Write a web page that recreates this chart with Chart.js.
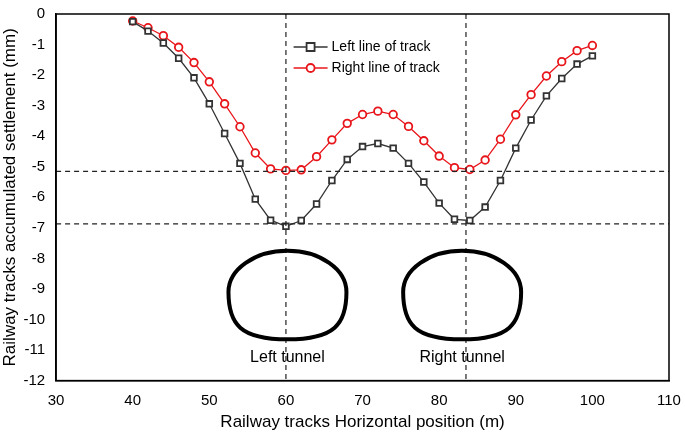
<!DOCTYPE html>
<html><head><meta charset="utf-8">
<script src="https://cdn.jsdelivr.net/npm/chart.js@4/dist/chart.umd.min.js"></script>
<style>html,body{margin:0;background:#fff}#wrap{width:685px;height:433px}</style>
</head><body><div id="wrap"><canvas id="c"></canvas></div>
<script>
// positions along the track (m)
const positions = [40,42,44,46,48,50,52,54,56,58,60,62,64,66,68,70,72,74,76,78,80,82,84,86,88,90,92,94,96,98,100];
const leftLine = [-0.25,-0.56,-0.95,-1.45,-2.09,-2.94,-3.91,-4.89,-6.06,-6.75,-6.95,-6.76,-6.22,-5.45,-4.76,-4.34,-4.24,-4.39,-4.89,-5.50,-6.19,-6.72,-6.76,-6.32,-5.45,-4.39,-3.47,-2.68,-2.11,-1.64,-1.37];
const rightLine = [-0.23,-0.45,-0.71,-1.09,-1.59,-2.22,-2.94,-3.69,-4.55,-5.07,-5.12,-5.10,-4.67,-4.12,-3.58,-3.29,-3.18,-3.29,-3.68,-4.15,-4.65,-5.03,-5.09,-4.78,-4.10,-3.30,-2.64,-2.03,-1.56,-1.20,-1.03];
const refX = [60, 83.5];
const refY = [-5.15, -6.87];
const tunnels = [{cx: 60.2, label: 'Left tunnel'}, {cx: 83.0, label: 'Right tunnel'}];
const FONT = '"Liberation Sans", Arial';

const overlay = {
  id: 'overlay',
  afterDatasetsDraw(chart) {
    const {ctx, scales: {x, y}, chartArea: a} = chart;
    ctx.save();
    ctx.setLineDash([5, 4]);
    ctx.strokeStyle = '#222';
    ctx.lineWidth = 1.2;
    refX.forEach(v => { const px = x.getPixelForValue(v); ctx.beginPath(); ctx.moveTo(px, a.top); ctx.lineTo(px, a.bottom); ctx.stroke(); });
    refY.forEach(v => { const py = y.getPixelForValue(v); ctx.beginPath(); ctx.moveTo(a.left, py); ctx.lineTo(a.right, py); ctx.stroke(); });
    ctx.setLineDash([]);
    ctx.lineWidth = 4;
    ctx.strokeStyle = '#000';
    tunnels.forEach(t => {
      const cx = x.getPixelForValue(t.cx);
      const top = y.getPixelForValue(-7.75), bot = y.getPixelForValue(-10.65);
      const hw = (x.getPixelForValue(t.cx + 7.7) - cx);
      const sy = top + hw * 0.7;
      ctx.beginPath();
      ctx.ellipse(cx, sy, hw, hw * 0.7, 0, Math.PI, 2 * Math.PI);
      ctx.bezierCurveTo(cx + hw, sy + 32, cx + hw * 0.8, bot, cx, bot);
      ctx.bezierCurveTo(cx - hw * 0.8, bot, cx - hw, sy + 32, cx - hw, sy);
      ctx.stroke();
      ctx.font = '16px ' + FONT;
      ctx.fillStyle = '#000';
      ctx.textAlign = 'center';
      ctx.fillText(t.label, cx, y.getPixelForValue(-11.2) + 6);
    });
    // legend
    const ds = chart.data.datasets;
    const lx = x.getPixelForValue(61);
    ds.forEach((d, i) => {
      const ly = 47 + i * 21;
      ctx.strokeStyle = d.borderColor; ctx.lineWidth = 1.3;
      ctx.beginPath(); ctx.moveTo(lx, ly); ctx.lineTo(lx + 34, ly); ctx.stroke();
      ctx.fillStyle = '#fff'; ctx.lineWidth = 1.8;
      ctx.beginPath();
      if (i === 0) ctx.rect(lx + 13, ly - 4, 8, 8); else ctx.arc(lx + 17, ly, 4, 0, 2 * Math.PI);
      ctx.fill(); ctx.stroke();
      ctx.fillStyle = '#000'; ctx.font = '14px ' + FONT; ctx.textAlign = 'left'; ctx.textBaseline = 'middle';
      ctx.fillText(d.label, lx + 38, ly);
    });
    ctx.lineWidth = 1.5; ctx.strokeStyle = '#000';
    ctx.strokeRect(a.left, a.top, a.right - a.left, a.bottom - a.top);
    ctx.restore();
  }
};

new Chart(document.getElementById('c'), {
  type: 'line',
  data: {
    labels: positions,
    datasets: [
      {label: 'Left line of track', data: positions.map((p, i) => ({x: p, y: leftLine[i]})),
       borderColor: '#333', backgroundColor: '#fff', borderWidth: 1.3, pointStyle: 'rect', pointRadius: 4, pointBorderWidth: 1.8},
      {label: 'Right line of track', data: positions.map((p, i) => ({x: p, y: rightLine[i]})),
       borderColor: '#e8161b', backgroundColor: '#fff', borderWidth: 1.3, pointStyle: 'circle', pointRadius: 3.8, pointBorderWidth: 1.8}
    ]
  },
  options: {
    animation: false, responsive: true, maintainAspectRatio: false,
    layout: {padding: {top: 14, right: 16, left: 0, bottom: 0}},
    plugins: {legend: {display: false}, tooltip: {enabled: false}},
    scales: {
      x: {type: 'linear', min: 30, max: 110,
          ticks: {stepSize: 10, color: '#000', font: {size: 15, family: FONT}},
          grid: {display: false}, border: {color: '#000', width: 1.5},
          title: {display: true, text: 'Railway tracks Horizontal position (m)', color: '#000', font: {size: 17, family: FONT}, padding: 0}},
      y: {min: -12, max: 0,
          ticks: {stepSize: 1, color: '#000', font: {size: 15, family: FONT}},
          grid: {display: false}, border: {color: '#000', width: 1.5},
          title: {display: true, text: 'Railway tracks accumulated settlement (mm)', color: '#000', font: {size: 17, family: FONT}, padding: 0}}
    }
  },
  plugins: [overlay]
});
</script></body></html>
